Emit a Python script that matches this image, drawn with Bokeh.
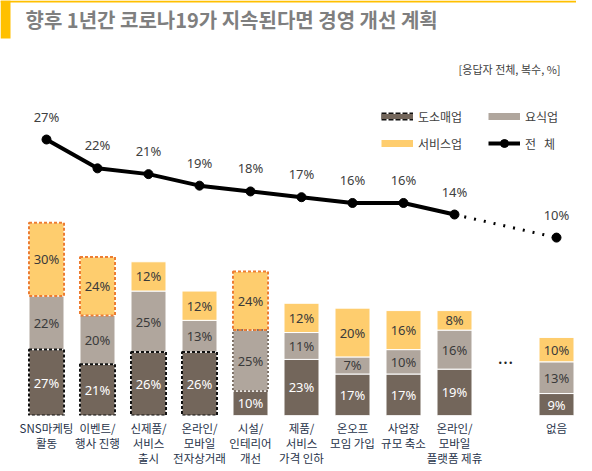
import numpy as np
from bokeh.plotting import figure
from bokeh.models import (ColumnDataSource, Range1d, FixedTicker, Label, Legend,
                          LegendItem, BoxAnnotation)
from bokeh.embed import file_html
from bokeh.resources import INLINE
from bokeh.core.properties import value

# ---------------- data ----------------
categories = ["SNS마케팅\n활동", "이벤트/\n행사 진행", "신제품/\n서비스\n출시",
              "온라인/\n모바일\n전자상거래", "시설/\n인테리어\n개선",
              "제품/\n서비스\n가격 인하", "온오프\n모임 가입", "사업장\n규모 축소",
              "온라인/\n모바일\n플랫폼 제휴", "없음"]
retail = [27, 21, 26, 26, 10, 23, 17, 17, 19, 9]      # 도소매업
food = [22, 20, 25, 13, 25, 11, 7, 10, 16, 13]        # 요식업
service = [30, 24, 12, 12, 24, 12, 20, 16, 8, 10]     # 서비스업
total = [27, 22, 21, 19, 18, 17, 16, 16, 14, 10]      # 전체
series_names = ["도소매업", "요식업", "서비스업", "전   체"]
highlight_retail = [1, 1, 1, 1, 0, 0, 0, 0, 0, 0]
highlight_food = [0, 0, 0, 0, 1, 0, 0, 0, 0, 0]
highlight_service = [1, 1, 0, 0, 1, 0, 0, 0, 0, 0]
title_text = "향후 1년간 코로나19가 지속된다면 경영 개선 계획"
note_text = "[응답자 전체, 복수, %]"

# ---------------- style ----------------
DARK = "#73665B"
GRAY = "#B0A69D"
YELLOW = "#FECD6E"
ORANGE = "#ED7D31"
ACCENT = "#FFC000"
FONT = "Noto Sans CJK KR"

FW, FH = 576, 415
PITCH = 51.0
X0 = 46.0
BAR_PX = 2.44          # px per % for bars
LINE_PX = 5.77         # px per % for total line
LINE_BASE = 120.2      # px from bottom where line value 0 would be

n = len(categories)
x = np.arange(n, dtype=float)
x[-1] += 1.0           # gap for "..." before 없음

r = np.array(retail, float)
f = np.array(food, float)
s = np.array(service, float)
b0 = np.zeros(n); t0 = r
b1 = r; t1 = r + f
b2 = r + f; t2 = r + f + s

p = figure(frame_width=FW, frame_height=FH, output_backend="svg",
           toolbar_location=None, y_axis_location=None,
           x_range=Range1d(-X0 / PITCH, (FW - X0) / PITCH),
           y_range=Range1d(0, FH / BAR_PX),
           min_border_left=0, min_border_right=0, min_border_top=0,
           min_border_bottom=0)
p.extra_y_ranges = {"line": Range1d(-LINE_BASE / LINE_PX, (FH - LINE_BASE) / LINE_PX)}
p.outline_line_color = None
p.xgrid.grid_line_color = None
p.ygrid.grid_line_color = None
p.background_fill_color = "white"
p.border_fill_color = "white"

W = 35 / PITCH
src = ColumnDataSource(dict(x=x, b0=b0, t0=t0, b1=b1, t1=t1, b2=b2, t2=t2,
                            m0=(b0 + t0) / 2, m1=(b1 + t1) / 2, m2=(b2 + t2) / 2,
                            l0=[f"{v}%" for v in retail],
                            l1=[f"{v}%" for v in food],
                            l2=[f"{v}%" for v in service]))

p.vbar(x="x", bottom="b0", top="t0", width=W, source=src, fill_color=DARK,
       line_color="white", line_width=1)
p.vbar(x="x", bottom="b1", top="t1", width=W, source=src, fill_color=GRAY,
       line_color="white", line_width=1)
p.vbar(x="x", bottom="b2", top="t2", width=W, source=src, fill_color=YELLOW,
       line_color="white", line_width=1)

def sub(mask, bottom, top):
    idx = [i for i in range(n) if mask[i]]
    return ColumnDataSource(dict(x=x[idx], b=bottom[idx], t=top[idx]))

p.vbar(x="x", bottom="b", top="t", width=W, source=sub(highlight_retail, b0, t0),
       fill_alpha=0, line_color="#111111", line_width=2, line_dash="3 2")
p.vbar(x="x", bottom="b", top="t", width=W, source=sub(highlight_food, b1, t1),
       fill_alpha=0, line_color="#7E7268", line_width=2, line_dash="2 2")
p.vbar(x="x", bottom="b", top="t", width=W, source=sub(highlight_service, b2, t2),
       fill_alpha=0, line_color=ORANGE, line_width=2, line_dash="3 2")

txt = dict(text_font=value("Noto Sans"), text_font_size="13px",
           text_align="center", text_baseline="middle")
p.text(x="x", y="m0", text="l0", source=src, text_color="white", **txt)
p.text(x="x", y="m1", text="l1", source=src, text_color="#3A3A3A", **txt)
p.text(x="x", y="m2", text="l2", source=src, text_color="#3A3A3A", **txt)

# total line
tsrc = ColumnDataSource(dict(x=x, y=total, lab=[f"{v}%" for v in total]))
solid = ColumnDataSource(dict(x=x[:-1], y=total[:-1]))
dotted = ColumnDataSource(dict(x=x[-2:], y=total[-2:]))
r_line = p.line(x="x", y="y", source=solid, line_color="black", line_width=4,
                y_range_name="line")
p.line(x="x", y="y", source=dotted, line_color="black", line_width=3,
       line_dash="2 8", y_range_name="line")
r_pts = p.scatter(x="x", y="y", source=tsrc, size=9, color="black",
                  y_range_name="line")
p.text(x="x", y="y", text="lab", source=tsrc, y_range_name="line", y_offset=-23,
       text_color="#404040", text_font=value("Noto Sans"), text_font_size="13px",
       text_align="center", text_baseline="middle")

# "..." between groups
p.add_layout(Label(x=(x[-2] + x[-1]) / 2, y=53 / BAR_PX, text="• • •",
                   text_font_size="8.5px", text_color="#222222",
                   text_align="center", text_baseline="middle"))

# legend proxies (single NaN point, invisible in plot)
nan = [np.nan]
lr1 = p.line(x=nan, y=nan, line_color="#111111", line_width=8, line_dash="5 2")
lr2 = p.line(x=nan, y=nan, line_color=DARK, line_width=5)
lf = p.line(x=nan, y=nan, line_color=GRAY, line_width=7)
ls = p.line(x=nan, y=nan, line_color=YELLOW, line_width=7)
legend = Legend(items=[LegendItem(label=series_names[0], renderers=[lr1, lr2]),
                       LegendItem(label=series_names[1], renderers=[lf]),
                       LegendItem(label=series_names[2], renderers=[ls]),
                       LegendItem(label=series_names[3], renderers=[r_line, r_pts])],
                location=(381, 262), orientation="horizontal", ncols=2,
                glyph_width=32, glyph_height=20, label_height=20, label_width=63,
                label_standoff=5, spacing=7, padding=0, margin=0,
                label_text_font=FONT, label_text_font_size="12px",
                label_text_color="#404040", background_fill_alpha=0,
                border_line_alpha=0)
p.add_layout(legend, "center")

# title / note / accent
p.add_layout(Label(x=25, y=FH - 19, x_units="screen", y_units="screen",
                   text=title_text, text_font=FONT, text_font_size="20px",
                   text_font_style="bold", text_color="#7F7F7F",
                   text_baseline="middle"))
p.add_layout(Label(x=560, y=FH - 68, x_units="screen", y_units="screen",
                   text=note_text, text_font=FONT, text_font_size="11px",
                   text_color="#404040", text_align="right",
                   text_baseline="middle"))
p.add_layout(BoxAnnotation(left=p.x_range.start, right=p.x_range.start + 10 / PITCH,
                           bottom=(FH - 38) / BAR_PX, top=FH / BAR_PX,
                           fill_color=ACCENT, fill_alpha=1, line_color=None))
p.add_layout(BoxAnnotation(left=p.x_range.start, right=p.x_range.end,
                           bottom=(FH - 2) / BAR_PX, top=FH / BAR_PX,
                           fill_color=ACCENT, fill_alpha=1, line_color=None))

# x axis
ax = p.xaxis[0]
ax.ticker = FixedTicker(ticks=list(x))
ax.major_label_overrides = {float(xi): c for xi, c in zip(x, categories)}
ax.axis_line_color = None
ax.major_tick_line_color = None
ax.minor_tick_line_color = None
ax.major_tick_out = 0
ax.major_tick_in = 0
ax.major_label_standoff = 4
ax.major_label_text_font = FONT
ax.major_label_text_font_size = "11.5px"
ax.major_label_text_color = "#27334A"
ax.major_label_text_line_height = 0.95

open("out.html", "w").write(file_html(p, INLINE))
